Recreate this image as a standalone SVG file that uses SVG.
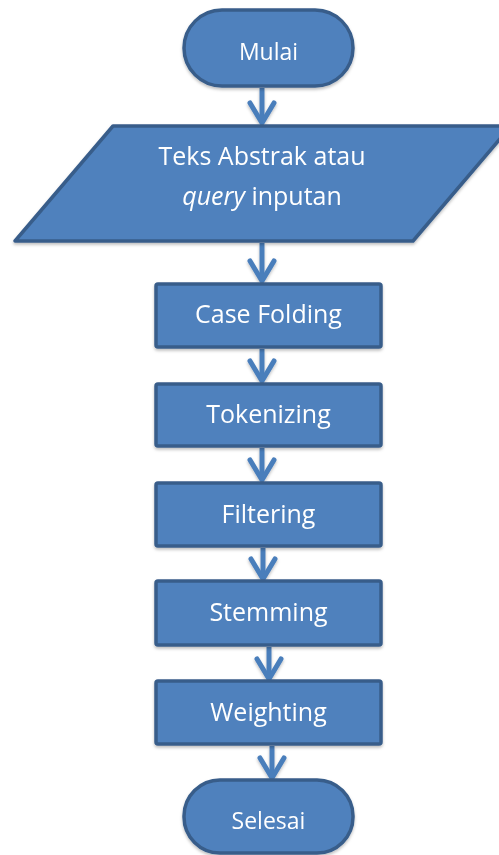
<svg xmlns="http://www.w3.org/2000/svg" width="499" height="855" viewBox="0 0 499 855">
  <style>
    .shape { fill: #4f81bd; stroke: #385d8a; stroke-width: 3.5; stroke-linejoin: round; }
    .label { fill: #ffffff; font-family: "Open Sans", "Noto Sans", sans-serif; text-anchor: middle; }
    .box { font-size: 25px; }
    .term { font-size: 23px; }
    .flow { fill: none; stroke: #4a7ebb; stroke-width: 5; }
  </style>
  <defs>
    <filter id="soft" x="-10%" y="-10%" width="120%" height="130%">
      <feDropShadow dx="0" dy="2" stdDeviation="1.5" flood-color="#000" flood-opacity="0.25"/>
    </filter>
    <!-- page-sized region so zero-width vertical lines are not clipped -->
    <filter id="softLine" filterUnits="userSpaceOnUse" x="0" y="0" width="499" height="855">
      <feDropShadow dx="0" dy="2" stdDeviation="1.5" flood-color="#000" flood-opacity="0.25"/>
    </filter>
    <marker id="chevron" markerUnits="userSpaceOnUse" orient="auto" refX="-3" refY="0" markerWidth="30" markerHeight="30" overflow="visible">
      <path d="M-20,-12 L0,0 L-20,12" fill="none" stroke="#4a7ebb" stroke-width="5" stroke-linecap="round" stroke-linejoin="round"/>
    </marker>
  </defs>

  <!-- connectors -->
  <g id="connectors" filter="url(#softLine)">
    <path class="flow" d="M262,88 V120" marker-end="url(#chevron)"/>
    <path class="flow" d="M262,243 V278" marker-end="url(#chevron)"/>
    <path class="flow" d="M262,349 V378" marker-end="url(#chevron)"/>
    <path class="flow" d="M262,448 V477" marker-end="url(#chevron)"/>
    <path class="flow" d="M263,548 V576" marker-end="url(#chevron)"/>
    <path class="flow" d="M269,647 V676" marker-end="url(#chevron)"/>
    <path class="flow" d="M272,746 V775" marker-end="url(#chevron)"/>
  </g>

  <g id="mulai" filter="url(#soft)">
    <rect class="shape" x="184" y="10" width="169" height="76" rx="38"/>
    <text class="label term" x="268.5" y="60">Mulai</text>
  </g>

  <g id="input" filter="url(#soft)">
    <polygon class="shape" points="113,126 511,126 413,241 15,241"/>
    <text class="label box" x="262" y="165">Teks Abstrak atau</text>
    <text class="label box" x="262" y="205"><tspan font-style="italic">query</tspan> inputan</text>
  </g>

  <g id="case-folding" filter="url(#soft)">
    <rect class="shape" x="156" y="284" width="225" height="63" rx="2"/>
    <text class="label box" x="268.5" y="323">Case Folding</text>
  </g>

  <g id="tokenizing" filter="url(#soft)">
    <rect class="shape" x="156" y="384" width="225" height="62" rx="2"/>
    <text class="label box" x="268.5" y="423">Tokenizing</text>
  </g>

  <g id="filtering" filter="url(#soft)">
    <rect class="shape" x="156" y="483" width="225" height="63" rx="2"/>
    <text class="label box" x="268.5" y="523">Filtering</text>
  </g>

  <g id="stemming" filter="url(#soft)">
    <rect class="shape" x="156" y="581" width="225" height="64" rx="2"/>
    <text class="label box" x="268.5" y="621">Stemming</text>
  </g>

  <g id="weighting" filter="url(#soft)">
    <rect class="shape" x="156" y="681" width="225" height="63" rx="2"/>
    <text class="label box" x="268.5" y="721">Weighting</text>
  </g>

  <g id="selesai" filter="url(#soft)">
    <rect class="shape" x="184" y="780" width="169" height="73" rx="36"/>
    <text class="label term" x="268.5" y="829">Selesai</text>
  </g>
</svg>
